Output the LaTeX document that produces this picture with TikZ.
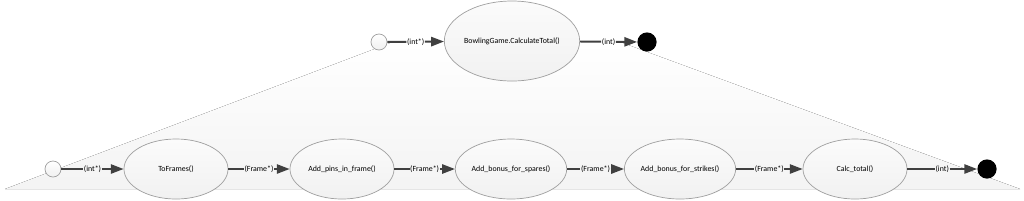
\documentclass[tikz,border=0pt]{standalone}
\usepackage{fontspec}
\setmainfont{Carlito}
\usetikzlibrary{arrows.meta,shapes.geometric}

\begin{document}
\begin{tikzpicture}[x=0.025cm, y=-0.025cm, >={Triangle[length=3.2mm,width=2.3mm]},
        every node/.style={font=\fontsize{5.6}{6.5}\selectfont},
        action/.style={ellipse, draw=gray!75, line width=0.5pt, top color=gray!3, bottom color=gray!11, inner sep=0pt},
        topaction/.style={action, minimum width=3.05cm, minimum height=2cm},
        subaction/.style={action, minimum width=2.6cm, minimum height=1.5cm},
        initial/.style={circle, draw=gray!75, line width=0.5pt, top color=white, bottom color=gray!12, minimum size=0.4cm, inner sep=0pt},
        final/.style={circle, fill=black, minimum size=0.48cm, inner sep=0pt},
        flow/.style={draw=black!75, line width=1.4pt},
        flowlabel/.style={inner sep=0.3pt}]
        \useasboundingbox (0,0) rectangle (1024,200);
        % ==== ZOOM BACKGROUND ====
        \fill[top color=white, bottom color=gray!9] (5,189) -- (393,42) -- (620,42) -- (1020,189) -- cycle;
        \draw[gray!20, line width=0.6pt] (5,189) -- (1020,189);

        % ==== TOP ACTIVITY ====
        \node[initial] (start) at (379,42) {};
        \node[topaction] (total) at (512,41) {BowlingGame.CalculateTotal()};
        \node[final] (stop) at (647,42) {};

        % ==== DETAILED FLOW ====
        \node[initial] (begin) at (53,169) {};
        \node[subaction] (frames) at (176,169) {ToFrames()};
        \node[subaction] (pins) at (342,169) {Add\_pins\_in\_frame()};
        \node[subaction] (spares) at (511,169) {Add\_bonus\_for\_spares()};
        \node[subaction] (strikes) at (680,169) {Add\_bonus\_for\_strikes()};
        \node[subaction] (calc) at (855,169) {Calc\_total()};
        \node[final] (end) at (987,169) {};

        % ==== CONNECTORS ====
        \foreach \a/\b/\t/\n in {start/total/{(int*)}/t1, total/stop/{(int)}/t2,
                begin/frames/{(int*)}/b1, frames/pins/{(Frame*)}/b2, pins/spares/{(Frame*)}/b3,
                spares/strikes/{(Frame*)}/b4, strikes/calc/{(Frame*)}/b5, calc/end/{(int)}/b6}{
            \path (\a) -- node[flowlabel] (\n) {\t} (\b);
            \draw[flow] (\a) -- (\n);
            \draw[flow, ->] (\n) -- (\b);
        }
\end{tikzpicture}
\end{document}
